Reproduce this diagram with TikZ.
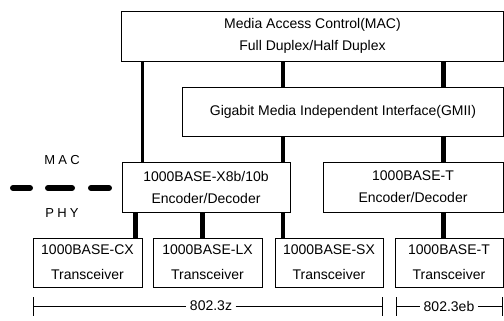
\documentclass[tikz,border=0pt]{standalone}
\usepackage{fontspec}
\setmainfont{Liberation Sans}
\begin{document}
\begin{tikzpicture}[x=1pt,y=-1pt,
  box/.style={draw, line width=0.8pt, rectangle, inner sep=0pt, align=center,
    font=\fontsize{14}{22}\selectfont},
  tbox/.style={box, font=\fontsize{14}{25}\selectfont},
  link/.style={line width=4pt},
  thinlink/.style={line width=3pt},
  dim/.style={line width=0.7pt},
  tick/.style={line width=0.8pt},
  bar/.style={line width=6pt, line cap=round},
  layer/.style={font=\fontsize{13}{15}\selectfont\addfontfeature{LetterSpace=25}}]
\useasboundingbox (0,0) rectangle (504,321);

% layer boxes
\node[box, minimum width=382pt, minimum height=50pt] (mac) at (312.5,36) {Media Access Control(MAC)\\Full Duplex/Half Duplex};
\node[box, minimum width=321pt, minimum height=49pt] (gmii) at (343,111.5) {Gigabit Media Independent Interface(GMII)};
\node[box, minimum width=168pt, minimum height=50pt] (encx) at (206,187) {1000BASE-X8b/10b\\Encoder/Decoder};
\node[box, minimum width=180pt, minimum height=50pt] (enct) at (413,187) {1000BASE-T\\Encoder/Decoder};

% transceivers
\node[tbox, minimum width=109pt, minimum height=49pt] (cx) at (87.5,262.5) {1000BASE-CX\\Transceiver};
\node[tbox, minimum width=109pt, minimum height=49pt] (lx) at (207.5,262.5) {1000BASE-LX\\Transceiver};
\node[tbox, minimum width=108pt, minimum height=49pt] (sx) at (329,262.5) {1000BASE-SX\\Transceiver};
\node[tbox, minimum width=108pt, minimum height=49pt] (tt) at (449,262.5) {1000BASE-T\\Transceiver};

% connector columns
\coordinate (c1) at (142,0);
\coordinate (c2) at (283,0);
\coordinate (c3) at (443,0);
\coordinate (c4) at (135,0);
\coordinate (c5) at (202,0);

\draw[thinlink] (c1 |- mac.south) -- (c1 |- encx.north);
\draw[link] (c2 |- mac.south) -- (c2 |- gmii.north);
\draw[link, line width=5pt] (c3 |- mac.south) -- (c3 |- gmii.north);
\draw[link] (c2 |- gmii.south) -- (c2 |- encx.north);
\draw[link, line width=5pt] (c3 |- gmii.south) -- (c3 |- enct.north);
\draw[link, line width=5pt] (c4 |- encx.south) -- (c4 |- cx.north);
\draw[link, line width=5pt] (c5 |- encx.south) -- (c5 |- lx.north);
\draw[link] (c2 |- encx.south) -- (c2 |- sx.north);
\draw[link, line width=5pt] (c3 |- enct.south) -- (c3 |- tt.north);

% MAC / PHY boundary
\node[layer] (maclbl) at (62,160) {MAC};
\node[layer] (phylbl) at (62,213) {PHY};
\draw[bar] (13,188) -- (30,188);
\draw[bar] (48,188) -- (72,188);
\draw[bar] (91,188) -- (109,188);

% standards ranges
\node[font=\fontsize{14}{16}\selectfont] (z) at (211,306) {802.3z};
\node[font=\fontsize{14}{16}\selectfont] (eb) at (449,306) {802.3eb};
\coordinate (zl) at (33,306);
\coordinate (zr) at (382,306);
\coordinate (el) at (396,306);
\coordinate (er) at (502,306);
\draw[dim] (zl) -- (z.west);
\draw[dim] (z.east) -- (zr);
\draw[dim] (el) -- (eb.west);
\draw[dim] (eb.east) -- (er);
\foreach \p in {zl,zr,el,er}
  \draw[tick] (\p) ++(0,-9) -- ++(0,19);
\end{tikzpicture}
\end{document}
